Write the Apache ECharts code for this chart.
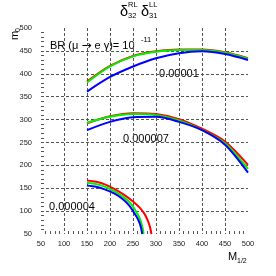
<!DOCTYPE html>
<html>
<head>
<meta charset="utf-8">
<script src="https://cdn.jsdelivr.net/npm/echarts@6/dist/echarts.min.js"></script>
<style>
html,body{margin:0;padding:0;background:#fff;}
#c{width:276px;height:276px;}
</style>
</head>
<body>
<div id="c"></div>
<script>
// ---- data ----
var xTicks = [50, 100, 150, 200, 250, 300, 350, 400, 450, 500];
var yTicks = [50, 100, 150, 200, 250, 300, 350, 400, 450, 500];

var x1 = [150, 200, 250, 300, 350, 400, 450, 500];
var red1   = [383, 417, 439, 449, 453, 453, 447, 434];
var green1 = [381, 416, 438, 448, 452, 452, 446, 433];
var blue1  = [361, 393, 416, 434, 445, 449, 443, 430];

var x2 = [150, 200, 250, 300, 350, 400, 450, 500];
var red2   = [292, 307, 314, 312, 301, 280, 252, 201];
var green2 = [293, 306, 312, 310, 298, 277, 248, 192];
var blue2  = [277, 295, 305, 306, 295, 277, 245, 184];

var red3x   = [150, 170, 190, 210, 230, 250, 265, 275, 282, 287, 290];
var red3    = [167, 164, 158, 148, 136, 121, 107, 94, 80, 65, 50];
var green3x = [150, 170, 190, 210, 230, 245, 256, 263, 268, 271, 273];
var green3  = [162, 159, 153, 143, 130, 117, 100, 88, 74, 62, 50];
var blue3x  = [150, 170, 190, 210, 228, 242, 252, 260, 265, 268, 270];
var blue3   = [156, 153, 147, 138, 126, 112, 97, 84, 72, 61, 50];

var contourLabels = ['0.00001', '0.000007', '0.000004'];

function pairs(xs, ys) { return xs.map(function (x, i) { return [x, ys[i]]; }); }

var RED = '#ff0000', GREEN = '#00f000', BLUE = '#0000ff';
function lineSeries(data, color) {
  return {
    type: 'line', data: data, smooth: 0.3, showSymbol: false, symbol: 'none',
    lineStyle: { color: color, width: 2 }, silent: true, animation: false
  };
}

var chart = echarts.init(document.getElementById('c'), null, { renderer: 'canvas' });
var font = 'Liberation Sans, Arial, sans-serif';
var grid = { left: 41, right: 28, top: 28, bottom: 42 };

function axisCommon(isX) {
  return {
    type: 'value', min: 50, max: 500, interval: 50,
    axisLine: { show: false },
    axisTick: { show: false, inside: true },
    minorTick: { show: true, splitNumber: 5, length: 3, lineStyle: { color: '#555', width: 1 } },
    splitLine: { show: true, showMinLine: false, showMaxLine: false,
      lineStyle: { color: '#555', width: 1, type: [3, 2] } },
    axisLabel: { fontSize: 7.5, color: '#222', fontFamily: font, margin: isX ? 6 : 9,
      formatter: function (v) { return String(v); } }
  };
}

var series = [
  lineSeries(pairs(x1, red1), RED), lineSeries(pairs(x1, green1), GREEN), lineSeries(pairs(x1, blue1), BLUE),
  lineSeries(pairs(x2, red2), RED), lineSeries(pairs(x2, green2), GREEN), lineSeries(pairs(x2, blue2), BLUE),
  lineSeries(pairs(red3x, red3), RED), lineSeries(pairs(green3x, green3), GREEN), lineSeries(pairs(blue3x, blue3), BLUE)
];

function txt(x, y, s, size, extra) {
  var o = { type: 'text', left: x, top: y, silent: true,
    style: { text: s, fontSize: size, fontFamily: font, fill: '#000' } };
  if (extra) for (var k in extra) o[k] = extra[k];
  return o;
}

var graphics = [
  // title
  txt(120, 4, 'δ', 14.5), txt(128, 1, 'RL', 7.5), txt(128, 12, '32', 7.5),
  txt(141, 4, 'δ', 14.5), txt(149, 1, 'LL', 7.5), txt(149, 12, '31', 7.5),
  // annotations
  { type: 'text', left: 50, top: 40, silent: true,
    style: { text: '{a|BR (μ }{b|→}{a| e γ)= 10}', fontFamily: font, fill: '#000',
      rich: { a: { fontSize: 11, fontFamily: font }, b: { fontSize: 12, fontFamily: 'DejaVu Sans' } } } },
  txt(141, 36, '-11', 7.5),
  txt(159, 68, contourLabels[0], 11),
  txt(123, 133, contourLabels[1], 11),
  txt(49, 201, contourLabels[2], 11),
  // x axis name
  txt(228, 251, 'M', 11), txt(237, 258, '1/2', 7)
];

// y axis name (rotated)
graphics.push({ type: 'text', x: 9, y: 40, rotation: Math.PI / 2, silent: true,
  style: { text: 'm', fontSize: 11, fontFamily: font, fill: '#000' } });
graphics.push({ type: 'text', x: 15, y: 32, rotation: Math.PI / 2, silent: true,
  style: { text: '0', fontSize: 7, fontFamily: font, fill: '#000' } });

chart.setOption({
  animation: false,
  backgroundColor: '#fff',
  grid: grid,
  xAxis: axisCommon(true),
  yAxis: axisCommon(false),
  series: series,
  graphic: graphics
});
</script>
</body>
</html>
